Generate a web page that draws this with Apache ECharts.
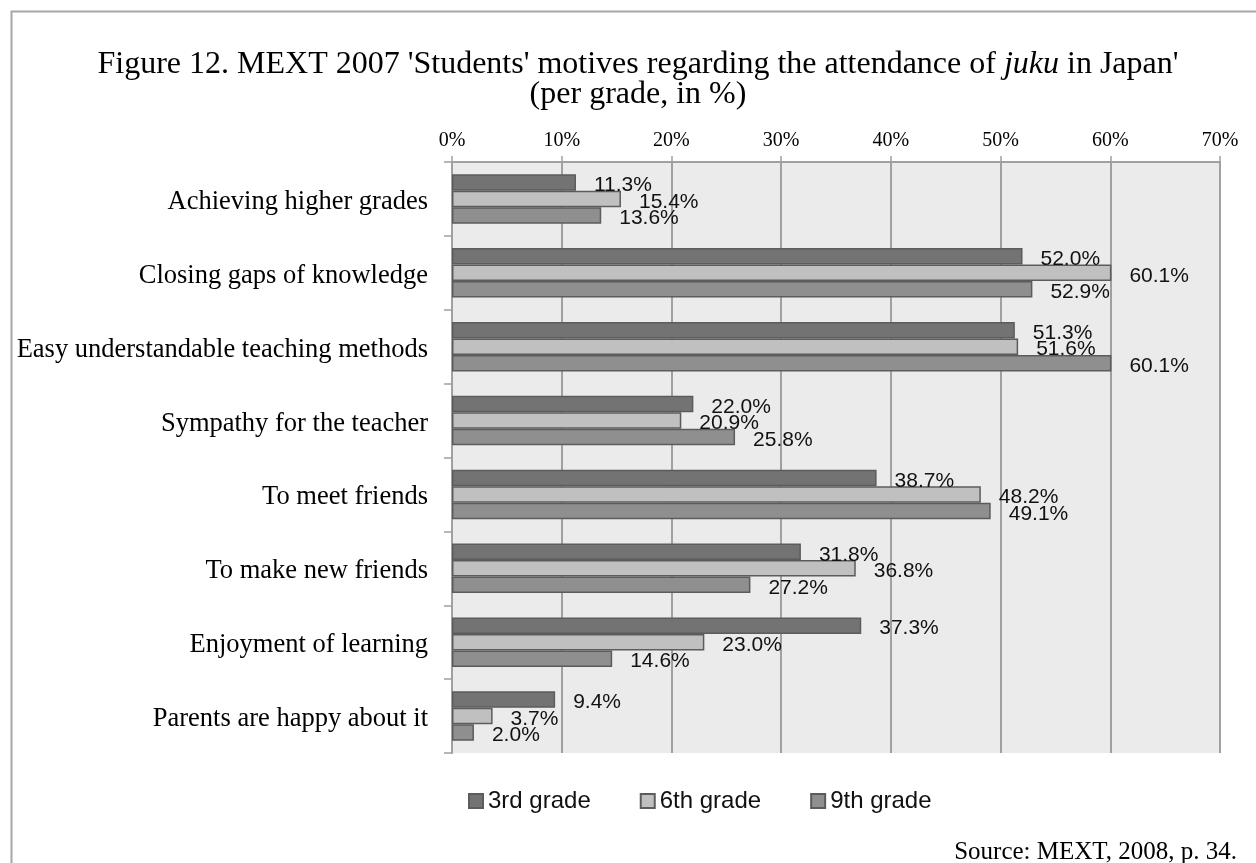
<!DOCTYPE html>
<html>
<head>
<meta charset="utf-8">
<script src="https://cdn.jsdelivr.net/npm/echarts@6/dist/echarts.min.js"></script>
<style>
  html, body { margin: 0; padding: 0; background: #fff; }
  #chart { width: 1256px; height: 863px; }
</style>
</head>
<body>
<div id="chart"></div>
<script>
// Motives for attending juku, per grade (%)
const categories = [
  'Achieving higher grades',
  'Closing gaps of knowledge',
  'Easy understandable teaching methods',
  'Sympathy for the teacher',
  'To meet friends',
  'To make new friends',
  'Enjoyment of learning',
  'Parents are happy about it'
];
const grade3 = [11.3, 52.0, 51.3, 22.0, 38.7, 31.8, 37.3, 9.4];
const grade6 = [15.4, 60.1, 51.6, 20.9, 48.2, 36.8, 23.0, 3.7];
const grade9 = [13.6, 52.9, 60.1, 25.8, 49.1, 27.2, 14.6, 2.0];
const seriesNames = ['3rd grade', '6th grade', '9th grade'];
const axisMax = 70;
const axisStep = 10;

const serif = '"Liberation Serif", "Times New Roman", serif';
const sans = '"Liberation Sans", Arial, sans-serif';

const fills = ['#737373', '#c0c0c0', '#8f8f8f'];

function barSeries(name, values, fill) {
  return {
    name: name,
    type: 'bar',
    data: values,
    barWidth: 16.5,
    barGap: '0%',
    itemStyle: { color: fill, borderColor: '#5c5c5c', borderWidth: 1.5 },
    label: {
      show: true,
      position: 'right',
      distance: 18,
      offset: [0, 3],
      fontFamily: sans,
      fontSize: 21,
      color: '#111',
      formatter: p => p.value.toFixed(1) + '%'
    }
  };
}

const chart = echarts.init(document.getElementById('chart'), null, { renderer: 'canvas' });
chart.setOption({
  animation: false,
  backgroundColor: '#ffffff',
  title: {
    text: "Figure 12. MEXT 2007 'Students' motives regarding the attendance of {i|juku} in Japan'\n(per grade, in %)",
    left: 633,
    top: 45,
    textAlign: 'center',
    textStyle: {
      fontFamily: serif,
      fontSize: 32,
      fontWeight: 'normal',
      color: '#000',
      lineHeight: 30,
      rich: {
        i: { fontFamily: serif, fontSize: 32, fontStyle: 'italic', color: '#000', lineHeight: 30 }
      }
    }
  },
  legend: {
    left: 463,
    top: 784,
    icon: 'rect',
    itemWidth: 14,
    itemHeight: 14,
    itemGap: 49,
    textStyle: { fontFamily: sans, fontSize: 24, color: '#111' },
    data: seriesNames
  },
  grid: {
    left: 452,
    right: 36,
    top: 162,
    bottom: 110,
    show: true,
    backgroundColor: '#ebebeb',
    borderWidth: 0
  },
  xAxis: {
    type: 'value',
    position: 'top',
    min: 0,
    max: axisMax,
    interval: axisStep,
    axisLine: { show: true, lineStyle: { color: '#a0a0a0', width: 2 } },
    axisTick: { show: true, length: 6, lineStyle: { color: '#a0a0a0', width: 1.5 } },
    splitLine: { show: true, lineStyle: { color: '#a0a0a0', width: 2 } },
    axisLabel: {
      margin: 11,
      fontFamily: serif,
      fontSize: 20,
      color: '#000',
      formatter: v => v + '%'
    }
  },
  yAxis: {
    type: 'category',
    data: categories,
    inverse: true,
    axisLine: { show: true, lineStyle: { color: '#a0a0a0', width: 2 } },
    axisTick: { show: true, length: 8, lineStyle: { color: '#a0a0a0', width: 1.5 } },
    axisLabel: {
      margin: 24,
      color: '#000',
      formatter: v => '{c|' + v + '}',
      rich: {
        c: { fontFamily: serif, fontSize: 26.5, color: '#000', padding: [6, 0, 0, 0] }
      }
    }
  },
  series: [
    barSeries(seriesNames[0], grade3, fills[0]),
    barSeries(seriesNames[1], grade6, fills[1]),
    barSeries(seriesNames[2], grade9, fills[2])
  ],
  graphic: [
    {
      type: 'rect',
      left: 9,
      top: 9,
      shape: { x: 0, y: 0, width: 1300, height: 900 },
      style: { fill: null, stroke: '#a6a6a6', lineWidth: 2 },
      silent: true,
      z: -1
    },
    {
      type: 'text',
      right: 19,
      top: 840,
      style: {
        text: 'Source: MEXT, 2008, p. 34.',
        font: '25px ' + serif,
        fill: '#000'
      }
    }
  ]
});
</script>
</body>
</html>
